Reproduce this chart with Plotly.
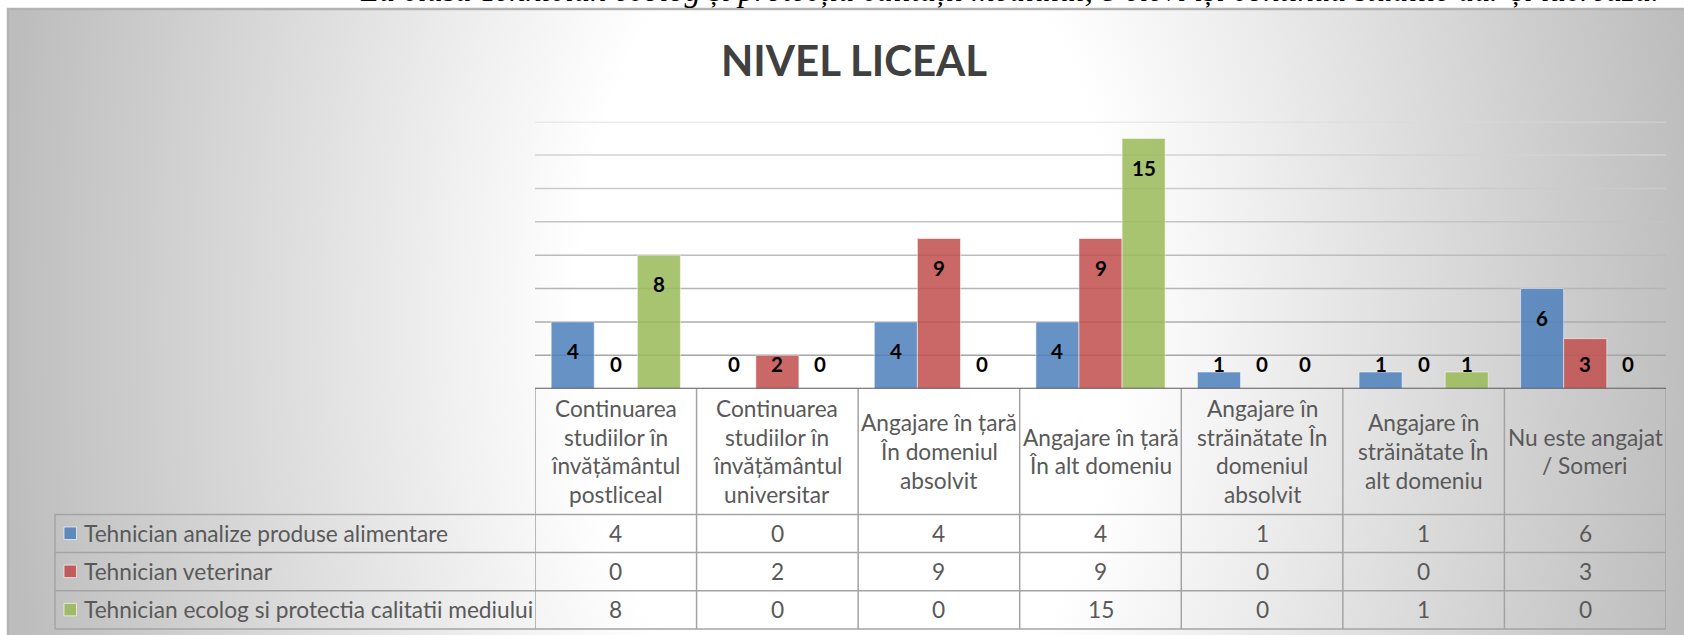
import base64
import plotly.graph_objects as go

# ---- data -------------------------------------------------------------
categories = [
    "Continuarea<br>studiilor în<br>învățământul<br>postliceal",
    "Continuarea<br>studiilor în<br>învățământul<br>universitar",
    "Angajare în țară<br>În domeniul<br>absolvit",
    "Angajare în țară<br>În alt domeniu",
    "Angajare în<br>străinătate În<br>domeniul<br>absolvit",
    "Angajare în<br>străinătate În<br>alt domeniu",
    "Nu este angajat<br>/ Someri",
]
series_names = [
    "Tehnician analize produse alimentare",
    "Tehnician veterinar",
    "Tehnician ecolog si protectia calitatii mediului",
]
analize = [4, 0, 4, 4, 1, 1, 6]
veterinar = [0, 2, 9, 9, 0, 0, 3]
ecolog = [8, 0, 0, 15, 0, 1, 0]
y_ticks = [0, 2, 4, 6, 8, 10, 12, 14, 16]

chart_title = "NIVEL LICEAL"
caption = ("La clasa Tehnician ecolog și protecția calității mediului, "
           "8 elevi își continuă studiile dar și lucrează.")

# ---- styling ----------------------------------------------------------
W, H = 1684, 635
colors = ["#4F81BD", "#C0504D", "#9BBB59"]
FONT = "Lato"
TXT = "#595959"
TBL_SIZE = 22.7


def px(x):
    return x / W


def py(y):
    return 1 - y / H


series = [analize, veterinar, ecolog]
idx = list(range(len(categories)))
bar_w = 0.2667
offsets = [-0.4, -0.4 + bar_w, -0.4 + 2 * bar_w]

fig = go.Figure()
for name, vals, col, off in zip(series_names, series, colors, offsets):
    fig.add_trace(go.Bar(
        x=idx, y=vals, name=name, width=bar_w, offset=off,
        marker=dict(color=col, opacity=0.86,
                    line=dict(color="rgba(255,255,255,0.55)", width=1)),
        showlegend=False, hoverinfo="skip",
    ))

annotations = []
shapes = []

# value labels on the bars
for vals, off in zip(series, offsets):
    for i, v in zip(idx, vals):
        annotations.append(dict(
            x=i + off + bar_w / 2, y=max(v - 1.75, 1.5), xref="x", yref="y",
            text=f"<b>{v}</b>", showarrow=False, yanchor="middle",
            font=dict(family=FONT, size=20.5, color="#000000"),
        ))

# horizontal gridlines, shaded darker towards the base
n_lines = len(y_ticks) - 1
for k, v in enumerate(y_ticks[1:]):
    t = (n_lines - 1 - k) / (n_lines - 1)
    g = int(round(0xda - t * (0xda - 0xa6)))
    shapes.append(dict(
        type="line", xref="x", yref="y", x0=-0.5, x1=6.5, y0=v, y1=v,
        line=dict(color=f"rgb({g},{g},{g})", width=1.5), layer="below",
    ))

# data table grid
top_y, head_y = 388.7, 514.5
row_lines = [514.5, 552.5, 590.7, 629.0]
tbl_left = 55
line_style = dict(color="#a3a3a3", width=1.5)
for yl in row_lines:
    shapes.append(dict(type="line", xref="paper", yref="paper",
                       x0=px(tbl_left), x1=px(1666), y0=py(yl), y1=py(yl),
                       line=line_style))
shapes.append(dict(type="line", xref="paper", yref="paper",
                   x0=px(tbl_left), x1=px(tbl_left),
                   y0=py(head_y), y1=py(row_lines[-1]), line=line_style))
for i in range(len(categories) + 1):
    shapes.append(dict(type="line", xref="x", yref="paper",
                       x0=i - 0.5, x1=i - 0.5,
                       y0=py(top_y), y1=py(row_lines[-1]), line=line_style))
# category axis line
shapes.append(dict(type="line", xref="x", yref="y", x0=-0.5, x1=6.5,
                   y0=0, y1=0, line=dict(color="#5a5a5a", width=2)))

# column headers
head_mid, line_gap = 451.5, 28.7
for i, cat in zip(idx, categories):
    parts = cat.split("<br>")
    n = len(parts)
    for k, part in enumerate(parts):
        yc = head_mid + (k - (n - 1) / 2) * line_gap
        annotations.append(dict(
            x=i, y=py(yc), xref="x", yref="paper", text=part,
            showarrow=False, yanchor="middle",
            font=dict(family=FONT, size=TBL_SIZE, color=TXT),
        ))

# table rows: legend key, series name and values
row_mid = [(row_lines[r] + row_lines[r + 1]) / 2 for r in range(3)]
for name, vals, col, ym in zip(series_names, series, colors, row_mid):
    shapes.append(dict(type="rect", xref="paper", yref="paper",
                       x0=px(64), x1=px(76.5), y0=py(ym - 6.5), y1=py(ym + 6),
                       fillcolor=col, opacity=0.88,
                       line=dict(color="rgba(255,255,255,0.7)", width=1)))
    annotations.append(dict(
        x=px(82), y=py(ym), xref="paper", yref="paper", text=name,
        showarrow=False, xanchor="left", yanchor="middle",
        font=dict(family=FONT, size=TBL_SIZE, color=TXT),
    ))
    for i, v in zip(idx, vals):
        annotations.append(dict(
            x=i, y=py(ym), xref="x", yref="paper", text=str(v),
            showarrow=False, yanchor="middle",
            font=dict(family=FONT, size=TBL_SIZE, color=TXT),
        ))

# title
annotations.append(dict(
    x=px(854), y=py(60), xref="paper", yref="paper",
    text=f"<b>{chart_title}</b>", showarrow=False, yanchor="middle",
    font=dict(family=FONT, size=42, color="#404040"),
))

# document line above the chart
annotations.append(dict(
    x=px(358), y=1, xref="paper", yref="paper", text=f"<i>{caption}</i>",
    showarrow=False, xanchor="left", yanchor="middle", yshift=10,
    font=dict(family="Liberation Serif", size=32.4, color="#000000"),
))

# chart area frame
shapes.append(dict(type="rect", xref="paper", yref="paper",
                   x0=px(8), x1=px(W + 20), y0=py(9), y1=py(H + 20),
                   line=dict(color="#b3b3b3", width=2.5), layer="below"))

# radial background fill of the chart area
gw, gh = W - 8, H - 9
cx, cy, r, ky = 842, 311, 850, 1.6
svg = (
    f'<svg xmlns="http://www.w3.org/2000/svg" width="{gw}" height="{gh}" '
    f'viewBox="0 0 {gw} {gh}" preserveAspectRatio="none"><defs>'
    f'<radialGradient id="g" gradientUnits="userSpaceOnUse" cx="{cx}" cy="{cy}" r="{r}" '
    f'gradientTransform="translate({cx} {cy}) scale(1 {ky}) translate({-cx} {-cy})">'
    '<stop offset="0" stop-color="#ffffff"/>'
    '<stop offset="0.32" stop-color="#ffffff"/>'
    '<stop offset="1" stop-color="#bdbdbd"/>'
    '</radialGradient></defs>'
    f'<rect width="{gw}" height="{gh}" fill="url(#g)"/></svg>'
)
bg_src = "data:image/svg+xml;base64," + base64.b64encode(svg.encode()).decode()

fig.update_layout(
    width=W, height=H,
    margin=dict(l=0, r=0, t=0, b=0),
    paper_bgcolor="#ffffff", plot_bgcolor="rgba(0,0,0,0)",
    barmode="overlay",
    xaxis=dict(domain=[px(535), px(1666)], range=[-0.5, 6.5],
               showticklabels=False, showgrid=False, zeroline=False,
               showline=False, fixedrange=True),
    yaxis=dict(domain=[py(388.7), py(121.7)], range=[0, 16],
               tickvals=y_ticks, showticklabels=False, showgrid=False,
               zeroline=False, showline=False, fixedrange=True),
    shapes=shapes,
    annotations=annotations,
    images=[dict(source=bg_src, xref="paper", yref="paper",
                 x=px(8), y=py(9), sizex=gw / W, sizey=gh / H,
                 xanchor="left", yanchor="top", sizing="stretch",
                 layer="below")],
    showlegend=False,
)

fig.write_html("out.html")
